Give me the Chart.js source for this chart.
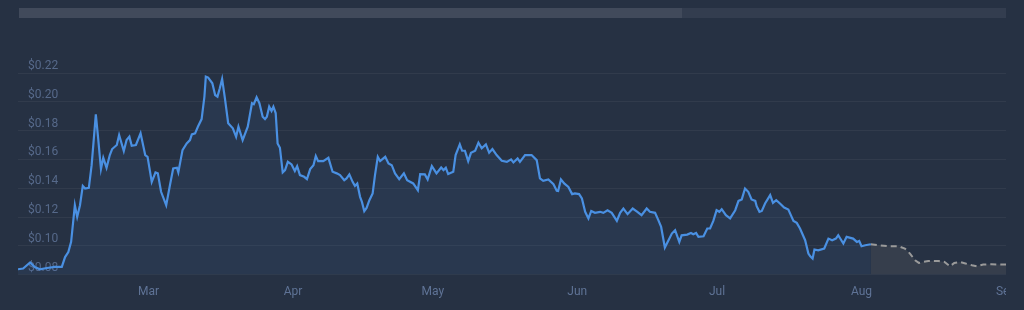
<!DOCTYPE html>
<html>
<head>
<meta charset="utf-8">
<script src="https://cdn.jsdelivr.net/npm/chart.js@4.4.1/dist/chart.umd.min.js"></script>
<style>
  html, body { margin: 0; padding: 0; background: #263143; }
  #wrap { position: relative; width: 1024px; height: 310px; overflow: hidden; }
  .nav { position: absolute; top: 8px; height: 10px; }
  #navAll { left: 19px; width: 987px; background: #333d4f; }
  #navSel { left: 19px; width: 663px; background: #414a5b; }
  #clip { position: absolute; left: 0; top: 0; width: 1006px; height: 310px; overflow: hidden; }
</style>
</head>
<body>
<div id="wrap">
  <div class="nav" id="navAll"></div>
  <div class="nav" id="navSel"></div>
  <div id="clip"><canvas id="priceChart" width="1024" height="310"></canvas></div>
</div>
<script>
// days counted from Feb 1
const histDays = [0,1.1,2.6,3.6,4.7,6.2,7.9,9.4,10.1,10.8,11.4,12.2,12.7,13.3,13.9,14.4,15.2,15.8,16.7,17.2,
  17.8,18.3,19.0,19.7,20.2,21.2,21.7,22.7,23.3,23.9,24.4,25.3,26.3,27.3,27.8,28.7,29.5,30.0,30.7,31.8,
  32.6,33.3,34.1,34.4,35.3,36.2,36.9,37.3,38.0,38.6,39.4,40.0,40.3,40.8,41.7,42.3,42.8,43.3,43.8,44.4,
  45.1,46.1,46.8,47.3,48.2,49.3,50.2,50.6,51.2,51.8,52.5,53.0,53.4,53.9,54.4,54.8,55.3,55.7,56.2,56.8,
  57.3,57.9,58.7,59.4,59.9,60.5,61.4,62.0,62.7,63.4,63.9,64.4,65.5,66.6,67.5,68.4,69.1,70.0,70.5,71.1,
  71.8,72.3,72.8,73.4,73.8,74.3,74.8,75.4,76.1,76.6,77.2,77.7,78.8,79.5,80.2,80.9,81.8,82.8,83.5,84.8,
  85.8,86.3,87.3,87.9,88.8,89.8,90.8,91.3,91.8,92.3,93.4,93.9,94.8,95.3,95.9,96.6,97.2,98.1,98.8,99.5,
  100.4,101.1,101.8,102.7,103.8,104.9,105.8,106.3,107.2,107.7,108.8,110.2,111.3,112.0,112.7,113.8,114.9,115.6,115.9,116.5,
  117.2,118.1,118.9,119.5,120.4,121.0,121.7,122.4,123.0,123.8,124.9,125.6,126.5,127.4,128.5,129.2,129.9,130.8,131.9,132.9,
  133.8,134.9,135.6,136.7,137.4,138.0,138.8,139.5,140.3,141.0,141.9,142.4,143.6,144.4,144.9,145.5,146.0,147.1,147.9,148.5,
  149.2,149.9,150.5,151.0,151.9,152.8,153.9,154.6,155.3,156.0,156.7,157.4,158.2,158.5,159.1,159.6,160.3,161.4,162.0,162.7,
  163.5,164.4,165.3,166.0,166.4,167.1,167.8,168.9,169.6,170.0,170.5,170.9,171.7,173.0,173.9,174.7,175.5,176.0,177.1,177.8,
  179.2,180.0,180.5,181.0,181.8,183.0];
const histPrices = [0.0837,0.0842,0.0884,0.0853,0.0837,0.0846,0.0853,0.0853,0.0922,0.0957,
  0.1027,0.1282,0.1201,0.1282,0.1416,0.1398,0.1403,0.1560,0.1913,0.1746,
  0.1533,0.1611,0.1542,0.1630,0.1672,0.1700,0.1769,0.1658,0.1735,0.1758,
  0.1695,0.1700,0.1781,0.1630,0.1618,0.1444,0.1510,0.1503,0.1375,0.1282,
  0.1421,0.1537,0.1542,0.1510,0.1665,0.1711,0.1734,0.1774,0.1781,0.1827,
  0.1880,0.2036,0.2175,0.2168,0.2129,0.2047,0.2036,0.2094,0.2159,0.2024,
  0.1851,0.1816,0.1757,0.1827,0.1734,0.1827,0.1990,0.1983,0.2031,0.1990,
  0.1896,0.1880,0.1896,0.1966,0.1936,0.1966,0.1920,0.1711,0.1681,0.1510,
  0.1526,0.1583,0.1565,0.1519,0.1553,0.1491,0.1479,0.1463,0.1533,0.1560,
  0.1623,0.1588,0.1588,0.1611,0.1514,0.1503,0.1491,0.1456,0.1468,0.1496,
  0.1444,0.1416,0.1433,0.1340,0.1305,0.1240,0.1263,0.1317,0.1364,0.1491,
  0.1618,0.1588,0.1618,0.1572,0.1560,0.1503,0.1463,0.1503,0.1456,0.1433,
  0.1386,0.1498,0.1496,0.1461,0.1553,0.1503,0.1544,0.1526,0.1542,0.1498,
  0.1514,0.1630,0.1704,0.1660,0.1660,0.1588,0.1646,0.1660,0.1716,0.1677,
  0.1704,0.1646,0.1672,0.1630,0.1590,0.1583,0.1600,0.1579,0.1607,0.1583,
  0.1630,0.1630,0.1595,0.1468,0.1451,0.1461,0.1428,0.1382,0.1380,0.1461,
  0.1433,0.1409,0.1359,0.1364,0.1359,0.1329,0.1236,0.1190,0.1242,0.1229,
  0.1236,0.1229,0.1247,0.1229,0.1173,0.1229,0.1259,0.1220,0.1259,0.1236,
  0.1213,0.1259,0.1236,0.1229,0.1178,0.1131,0.0988,0.1034,0.1085,0.1108,
  0.1027,0.1073,0.1078,0.1089,0.1080,0.1089,0.1062,0.1066,0.1120,0.1120,
  0.1173,0.1247,0.1236,0.1254,0.1213,0.1190,0.1247,0.1312,0.1322,0.1398,
  0.1375,0.1322,0.1312,0.1275,0.1236,0.1242,0.1294,0.1352,0.1298,0.1317,
  0.1294,0.1266,0.1252,0.1201,0.1173,0.1159,0.1120,0.1039,0.0946,0.0927,
  0.0911,0.0974,0.0969,0.0981,0.1050,0.1039,0.1050,0.1073,0.1016,0.1062,
  0.1050,0.1027,0.1034,0.0997,0.1004,0.1011];
const forecastDays = [183.0,184.6,186.7,188.9,190.3,191.4,192.5,193.3,194.3,195.3,197.5,
  198.8,200.0,200.9,202.1,203.3,204.7,205.7,207.1,208.9,210.7,212];
const forecastPrices = [0.1011,0.1004,0.0997,0.0997,0.0981,0.0946,0.0899,0.0881,0.0888,0.0895,0.0895,
  0.0888,0.0858,0.0881,0.0888,0.0877,0.0865,0.0858,0.0870,0.0872,0.0870,0.0870];
const monthTicks = [28, 59, 89, 120, 150, 181, 212];
const monthLabels = ['Mar', 'Apr', 'May', 'Jun', 'Jul', 'Aug', 'Sep'];

Chart.defaults.font.family = 'Roboto';

const ctx = document.getElementById('priceChart').getContext('2d');
new Chart(ctx, {
    type: 'line',
    data: {
        datasets: [
            {
                label: 'Price',
                data: histDays.map((d, i) => ({ x: d, y: histPrices[i] })),
                borderColor: '#4a90e2',
                borderWidth: 2.2,
                backgroundColor: 'rgba(74, 144, 226, 0.08)',
                fill: 'start',
                pointRadius: 0,
                tension: 0
            },
            {
                label: 'Forecast',
                data: forecastDays.map((d, i) => ({ x: d, y: forecastPrices[i] })),
                borderColor: '#9a9a9a',
                borderWidth: 2,
                borderDash: [6, 4],
                backgroundColor: 'rgba(150, 140, 130, 0.15)',
                fill: 'start',
                pointRadius: 0,
                tension: 0
            }
        ]
    },
    options: {
        responsive: false,
        animation: false,
        layout: { padding: { left: 18, right: 18, top: 73, bottom: 11 } },
        plugins: { legend: { display: false }, tooltip: { enabled: false } },
        scales: {
            x: {
                type: 'linear',
                min: 0,
                max: 212,
                grid: { display: true, drawOnChartArea: false, drawTicks: true, tickLength: 10, color: 'transparent' },
                border: { display: false },
                afterBuildTicks: scale => { scale.ticks = monthTicks.map(v => ({ value: v })); },
                ticks: {
                    padding: 0,
                    autoSkip: false,
                    maxRotation: 0,
                    color: '#5f7396',
                    font: { size: 12 },
                    callback: (v, i) => monthLabels[i]
                }
            },
            y: {
                min: 0.08,
                max: 0.22,
                afterFit: scale => { scale.width = 0; },
                grid: { color: 'rgba(255, 255, 255, 0.05)', drawTicks: false },
                border: { display: false },
                ticks: {
                    stepSize: 0.02,
                    mirror: true,
                    padding: 10,
                    labelOffset: -7,
                    color: '#56698a',
                    font: { size: 12 },
                    callback: v => '$' + v.toFixed(2)
                }
            }
        }
    }
});
</script>
</body>
</html>
